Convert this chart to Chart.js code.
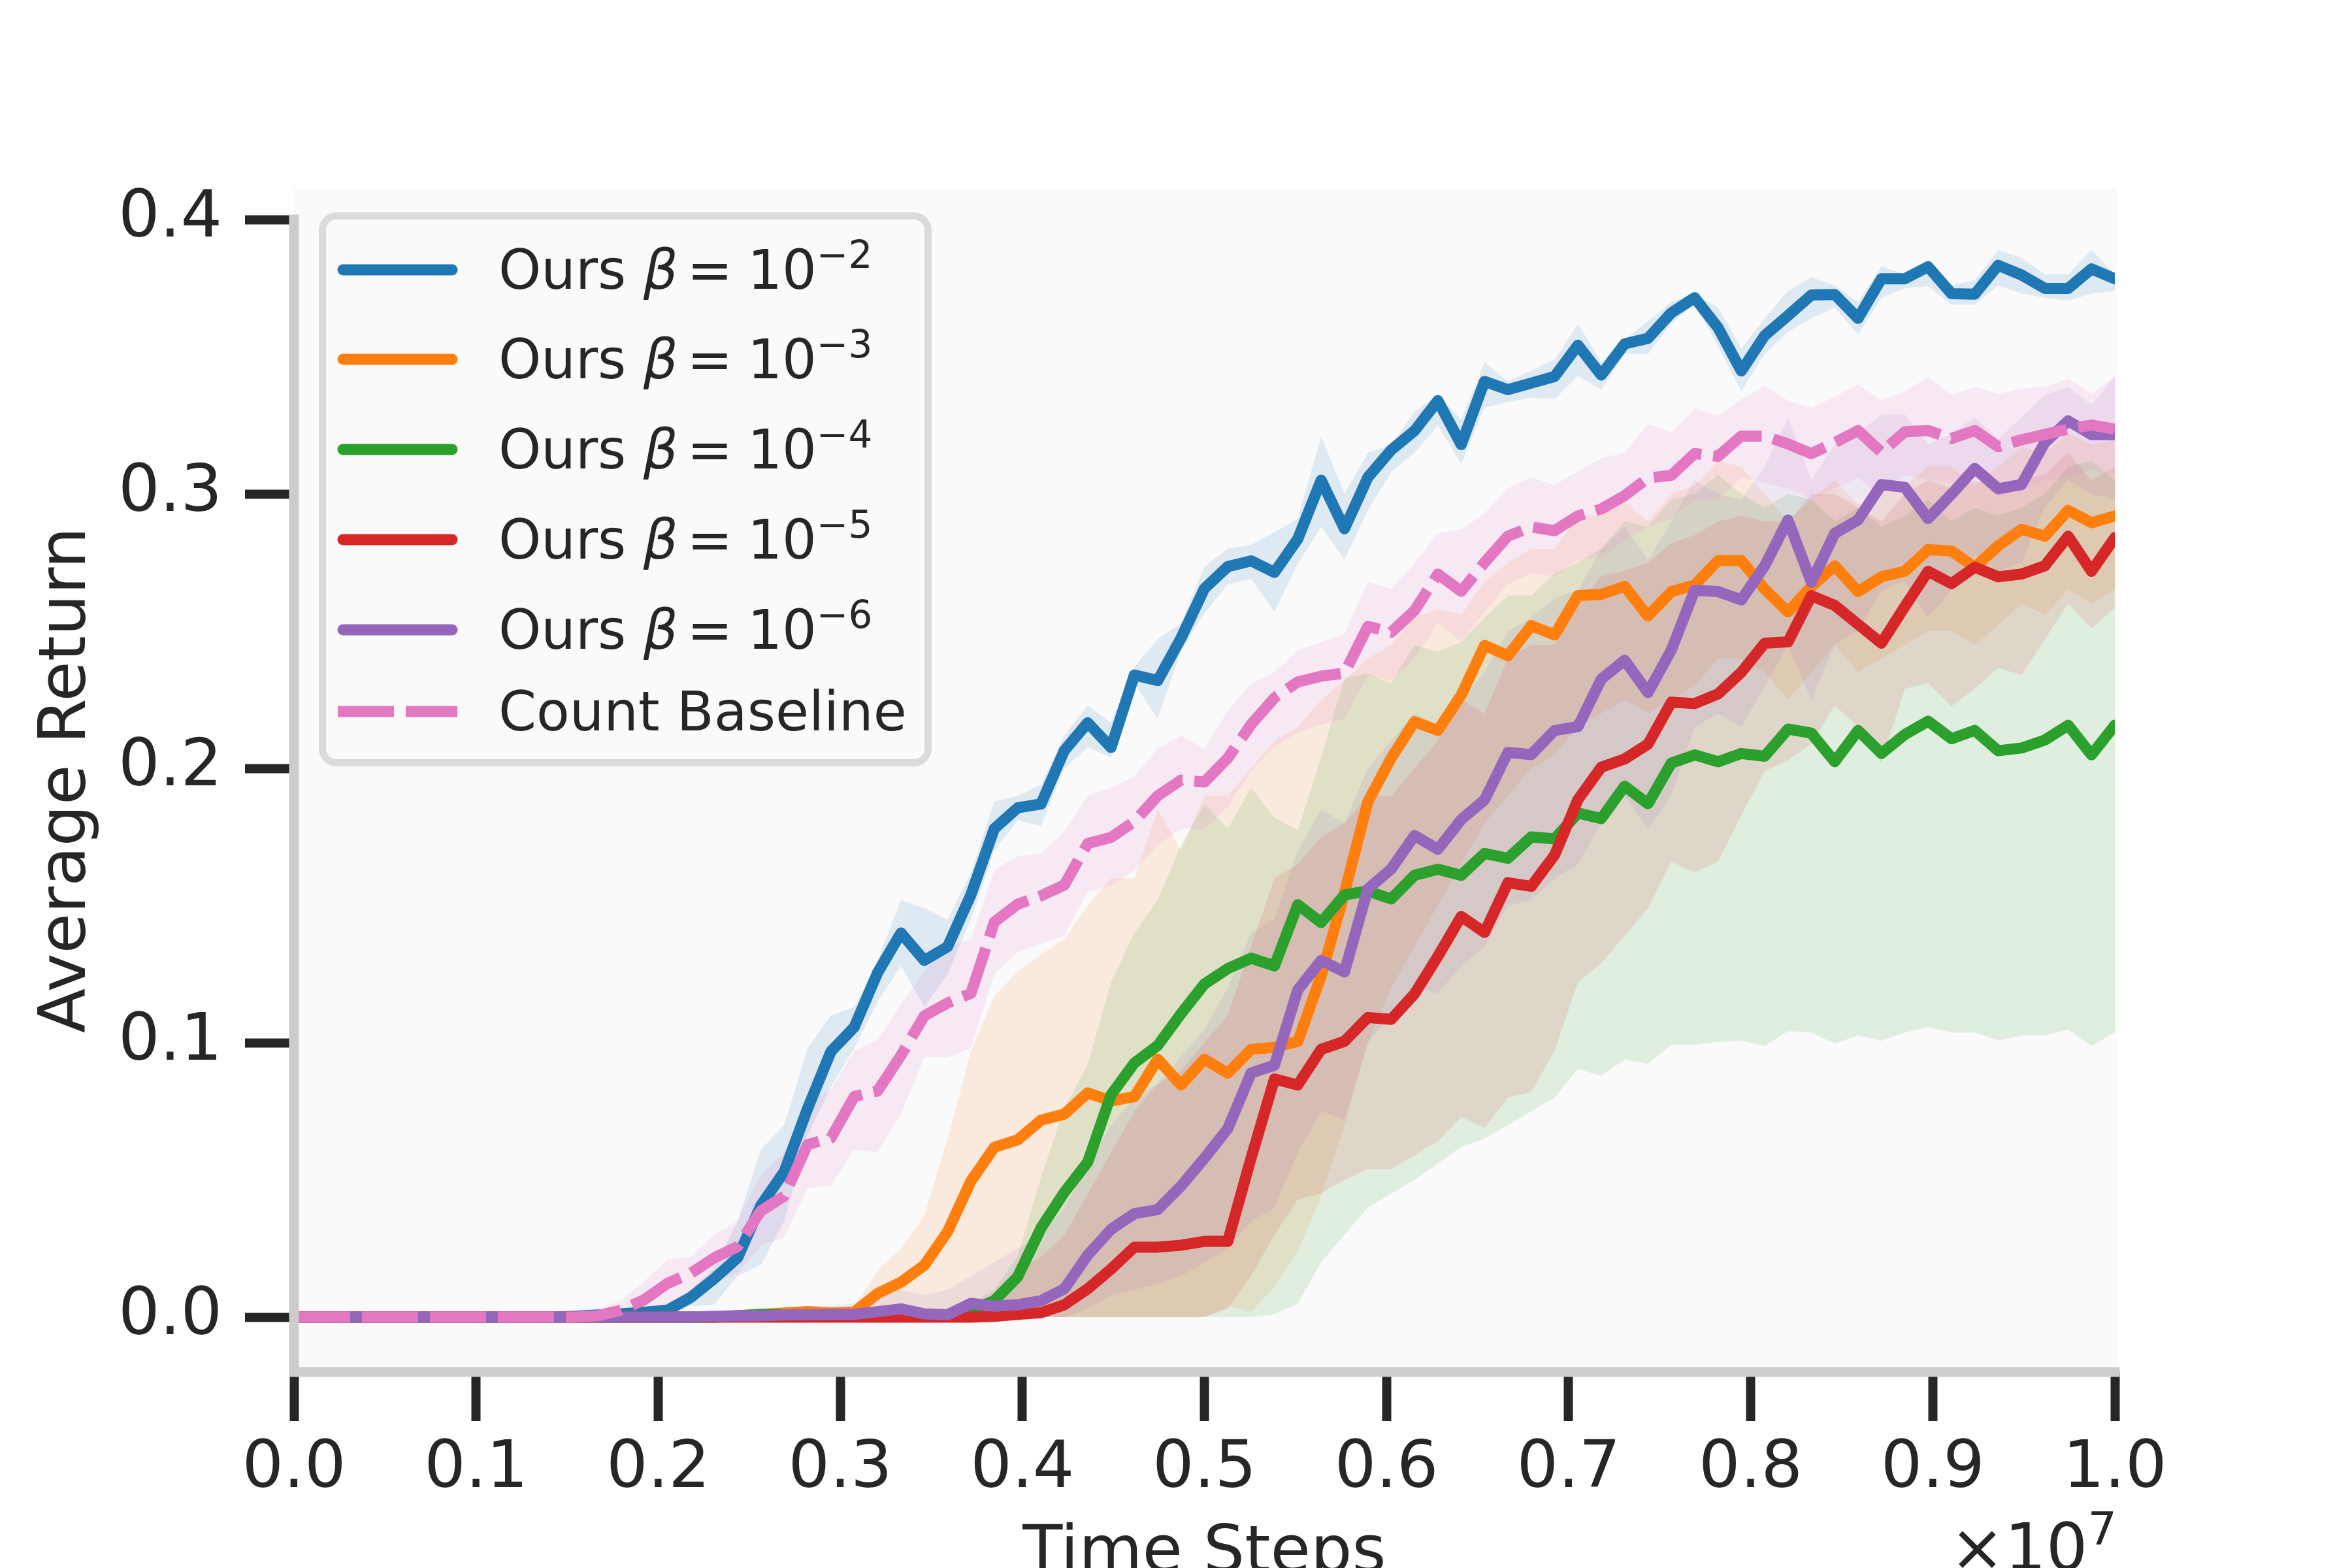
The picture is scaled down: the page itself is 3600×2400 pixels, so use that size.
<!DOCTYPE html>
<html>
<head>
<meta charset="utf-8">
<title>Average Return vs Time Steps</title>
<script src="https://cdn.jsdelivr.net/npm/chart.js@4.4.1/dist/chart.umd.min.js"></script>
<style>
  html, body { margin: 0; padding: 0; background: #ffffff; }
  canvas { display: block; }
</style>
</head>
<body>
<canvas id="chart" width="3600" height="2400"></canvas>
<script>
// evaluation points: one every 1e7/78 environment steps
const steps = Array.from({ length: 79 }, (_, i) => i * 1e7 / 78);
const xTicks = [0, 1e6, 2e6, 3e6, 4e6, 5e6, 6e6, 7e6, 8e6, 9e6, 1e7];
const yTicks = [0, 0.1, 0.2, 0.3, 0.4];

// Ours beta = 1e-2
const ours2 = [0,0,0,0,0,0,0,0,0,0,0,
  0,0.0003,0.0008,0.0012,0.0018,0.0025,0.0072,0.014,0.0216,
  0.0407,0.053,0.076,0.0968,0.1057,0.1255,0.140,0.130,0.135,0.154,
  0.178,0.1856,0.187,0.2065,0.2166,0.2076,0.234,0.232,0.2475,0.2655,
  0.2735,0.2756,0.2714,0.2836,0.305,0.2873,0.306,0.316,0.323,0.334,
  0.318,0.341,0.338,0.3404,0.3428,0.3542,0.3433,0.3547,0.3567,0.366,
  0.3715,0.3606,0.3448,0.3577,0.365,0.3725,0.3727,0.364,0.3784,0.3784,
  0.3828,0.373,0.3728,0.3833,0.3798,0.3749,0.3749,0.382,0.3784];
const ours2Lo = [0,0,0,0,0,0,0,0,0,0,0,
  0,0,0.0003,0.0006,0.001,0.0012,0.004,0.0045,0.015,
  0.019,0.035,0.066,0.084,0.098,0.115,0.128,0.113,0.125,0.145,
  0.170,0.181,0.179,0.200,0.2076,0.204,0.231,0.218,0.243,0.2565,
  0.267,0.269,0.257,0.2746,0.288,0.276,0.294,0.308,0.315,0.325,
  0.311,0.3314,0.3336,0.335,0.3345,0.343,0.338,0.351,0.351,0.362,
  0.369,0.354,0.3374,0.351,0.359,0.364,0.368,0.358,0.3715,0.375,
  0.3757,0.369,0.369,0.376,0.373,0.3715,0.3705,0.373,0.374];
const ours2Hi = [0,0,0,0,0,0,0,0,0,0,0,
  0.0005,0.001,0.0015,0.002,0.003,0.005,0.010,0.018,0.035,
  0.061,0.070,0.098,0.110,0.113,0.130,0.152,0.149,0.145,0.162,
  0.188,0.190,0.194,0.212,0.223,0.2166,0.237,0.247,0.253,0.2735,
  0.280,0.2815,0.286,0.291,0.321,0.300,0.315,0.318,0.330,0.336,
  0.327,0.348,0.341,0.345,0.349,0.362,0.348,0.356,0.363,0.370,
  0.373,0.368,0.353,0.364,0.374,0.379,0.376,0.370,0.383,0.380,
  0.384,0.376,0.378,0.389,0.386,0.380,0.380,0.389,0.380];

// Ours beta = 1e-3
const ours3 = [0,0,0,0,0,0,0,0,0,0,
  0,0,0,0,0,0,0,0,0,0.0005,
  0.001,0.0015,0.002,0.0015,0.0018,0.0086,0.0127,0.0189,0.0312,0.0496,
  0.0619,0.0646,0.0718,0.074,0.0817,0.0788,0.0803,0.094,0.0846,0.094,
  0.0889,0.0976,0.0983,0.1005,0.1243,0.1546,0.1878,0.2037,0.217,0.2138,
  0.2267,0.2448,0.241,0.252,0.2486,0.263,0.2634,0.2663,0.2555,0.2644,
  0.2668,0.2757,0.2757,0.2653,0.257,0.2663,0.2738,0.2644,0.2698,0.2718,
  0.2797,0.2792,0.2733,0.2811,0.2871,0.2846,0.294,0.2895,0.292];
const ours3Lo = [0,0,0,0,0,0,0,0,0,0,
  0,0,0,0,0,0,0,0,0,0,
  0,0,0,0,0,0,0,0,0,0,
  0,0,0,0,0,0,0,0,0,0,
  0.004,0.002,0.011,0.024,0.044,0.07,0.1,0.12,0.135,0.15,
  0.165,0.18,0.19,0.2,0.205,0.215,0.22,0.225,0.22,0.225,
  0.23,0.24,0.24,0.235,0.225,0.235,0.245,0.235,0.24,0.245,
  0.25,0.25,0.245,0.252,0.26,0.256,0.265,0.26,0.265];
const ours3Hi = [0,0,0,0,0,0,0,0,0,0,
  0,0,0,0,0,0,0,0,0,0.001,
  0.002,0.003,0.004,0.003,0.004,0.017,0.025,0.037,0.065,0.097,
  0.117,0.126,0.132,0.138,0.15,0.16,0.16,0.185,0.17,0.19,
  0.19,0.2,0.21,0.215,0.225,0.232,0.24,0.245,0.255,0.258,
  0.256,0.268,0.275,0.28,0.28,0.292,0.292,0.297,0.29,0.3,
  0.303,0.312,0.31,0.3,0.29,0.298,0.305,0.296,0.3,0.303,
  0.31,0.31,0.303,0.31,0.317,0.315,0.322,0.318,0.32];

// Ours beta = 1e-4
const ours4 = [0,0,0,0,0,0,0,0,0,0,
  0,0,0,0,0,0,0,0,0,0.0005,
  0.001,0.0008,0.0005,0.0005,0.0005,0.0005,0.0003,0.0003,0.0005,0.0025,
  0.006,0.0147,0.0325,0.0455,0.0565,0.081,0.0926,0.099,0.1106,0.1214,
  0.127,0.1308,0.128,0.1503,0.1438,0.1539,0.1553,0.1524,0.161,0.1632,
  0.161,0.169,0.1672,0.175,0.1743,0.1837,0.1817,0.1935,0.1871,0.2019,
  0.2049,0.2024,0.2054,0.2044,0.2143,0.2128,0.2024,0.2138,0.2054,0.2123,
  0.2172,0.2108,0.2138,0.2064,0.2074,0.2103,0.2157,0.2049,0.2157];
const ours4Lo = [0,0,0,0,0,0,0,0,0,0,
  0,0,0,0,0,0,0,0,0,0,
  0,0,0,0,0,0,0,0,0,0,
  0,0,0,0,0,0,0,0,0,0,
  0,0,0.001,0.005,0.02,0.03,0.04,0.045,0.05,0.056,
  0.062,0.065,0.07,0.075,0.08,0.0904,0.088,0.0938,0.0923,0.0993,
  0.0993,0.1003,0.1008,0.0988,0.1042,0.1037,0.0997,0.1027,0.1007,0.1037,
  0.1057,0.1037,0.1037,0.1008,0.1027,0.1027,0.1047,0.0988,0.1037];
const ours4Hi = [0,0,0,0,0,0,0,0,0,0,
  0,0,0,0,0,0,0,0,0,0.001,
  0.002,0.0015,0.001,0.001,0.001,0.001,0.001,0.001,0.0015,0.005,
  0.01,0.022,0.051,0.076,0.092,0.122,0.14,0.152,0.172,0.187,
  0.178,0.193,0.182,0.1775,0.204,0.233,0.2345,0.231,0.245,0.2425,
  0.246,0.255,0.263,0.263,0.271,0.275,0.28,0.29,0.288,0.298,
  0.3,0.307,0.3,0.295,0.3,0.298,0.29,0.295,0.288,0.292,
  0.298,0.29,0.295,0.292,0.295,0.3,0.31,0.312,0.305];

// Ours beta = 1e-5
const ours5 = [0,0,0,0,0,0,0,0,0,0,
  0,0,0,0,0,0,0,0,0,0,
  0,0,0,0,0,0,0,0,0,0,
  0.0003,0.001,0.0016,0.0045,0.0103,0.0175,0.0255,0.0255,0.0262,0.0276,
  0.0276,0.058,0.0868,0.0846,0.0976,0.1005,0.1092,0.1085,0.1178,0.1315,
  0.146,0.1402,0.1583,0.157,0.1684,0.1886,0.2004,0.2034,0.2088,0.2241,
  0.2236,0.2271,0.235,0.2456,0.2461,0.2629,0.2594,0.2525,0.2456,0.2589,
  0.2718,0.2673,0.2733,0.2698,0.2708,0.2738,0.2846,0.2718,0.2841];
const ours5Lo = [0,0,0,0,0,0,0,0,0,0,
  0,0,0,0,0,0,0,0,0,0,
  0,0,0,0,0,0,0,0,0,0,
  0,0,0,0,0,0,0,0,0,0,
  0.003,0.015,0.03,0.043,0.045,0.05,0.054,0.054,0.059,0.064,
  0.073,0.069,0.08,0.082,0.097,0.122,0.129,0.139,0.149,0.166,
  0.162,0.166,0.183,0.199,0.203,0.209,0.223,0.215,0.202,0.229,
  0.231,0.2226,0.229,0.2366,0.234,0.247,0.26,0.251,0.2585];
const ours5Hi = [0,0,0,0,0,0,0,0,0,0,
  0,0,0,0,0,0,0,0,0,0,
  0,0,0,0,0,0,0,0,0,0.002,
  0.009,0.017,0.022,0.03,0.045,0.06,0.075,0.085,0.09,0.1,
  0.11,0.135,0.16,0.165,0.175,0.18,0.19,0.19,0.2,0.21,
  0.225,0.22,0.24,0.245,0.245,0.26,0.27,0.272,0.275,0.282,
  0.285,0.29,0.292,0.29,0.29,0.3,0.3,0.295,0.29,0.3,
  0.305,0.302,0.305,0.303,0.305,0.307,0.315,0.305,0.31];

// Ours beta = 1e-6
const ours6 = [0,0,0,0,0,0,0,0,0,0,
  0,0,0,0,0,0,0,0,0.0003,0.0005,
  0.0005,0.0008,0.0009,0.001,0.001,0.002,0.003,0.0012,0.0009,0.005,
  0.004,0.0045,0.006,0.0103,0.0226,0.032,0.0377,0.0392,0.0478,0.0579,
  0.0687,0.089,0.0918,0.1193,0.13,0.1258,0.156,0.1633,0.1755,0.1705,
  0.1813,0.1885,0.2058,0.205,0.2138,0.2152,0.2325,0.2394,0.2276,0.2431,
  0.2649,0.2644,0.2614,0.2738,0.2905,0.2678,0.2856,0.2905,0.3034,0.3024,
  0.291,0.2999,0.3093,0.3019,0.3034,0.3187,0.3266,0.3216,0.3216];
const ours6Lo = [0,0,0,0,0,0,0,0,0,0,
  0,0,0,0,0,0,0,0,0,0,
  0,0,0,0,0,0,0,0,0,0,
  0,0,0,0,0.003,0.008,0.01,0.012,0.015,0.02,
  0.025,0.035,0.04,0.06,0.075,0.072,0.1,0.11,0.12,0.118,
  0.128,0.135,0.15,0.152,0.16,0.165,0.18,0.19,0.178,0.19,
  0.215,0.22,0.215,0.23,0.245,0.225,0.245,0.25,0.265,0.268,
  0.255,0.265,0.278,0.272,0.275,0.295,0.305,0.3,0.298];
const ours6Hi = [0,0,0,0,0,0,0,0,0,0,
  0,0,0,0,0,0,0,0,0,0,
  0,0.002,0.004,0.004,0.005,0.008,0.01,0.008,0.01,0.015,
  0.02,0.025,0.03,0.04,0.055,0.07,0.08,0.085,0.095,0.105,
  0.12,0.14,0.145,0.17,0.185,0.18,0.2,0.21,0.22,0.215,
  0.225,0.235,0.25,0.255,0.262,0.265,0.28,0.288,0.276,0.29,
  0.305,0.3,0.298,0.31,0.328,0.305,0.318,0.322,0.329,0.329,
  0.318,0.322,0.328,0.32,0.328,0.336,0.339,0.3325,0.343];

// Count baseline
const countBase = [0,0,0,0,0,0,0,0,0,0,
  0,0,0,0.0005,0.0025,0.0063,0.0123,0.016,0.0216,0.0257,
  0.0387,0.0441,0.0629,0.0653,0.0804,0.0824,0.0954,0.1098,0.1145,0.118,
  0.144,0.1505,0.1535,0.1575,0.1726,0.1748,0.1806,0.19,0.1957,0.195,
  0.2037,0.216,0.2257,0.2315,0.2336,0.2347,0.2517,0.2496,0.2575,0.2708,
  0.2645,0.275,0.2846,0.288,0.2866,0.292,0.2945,0.2994,0.3058,0.3068,
  0.3147,0.3137,0.3211,0.3211,0.3182,0.3147,0.3187,0.3231,0.3152,0.3226,
  0.3231,0.3202,0.3231,0.3172,0.3197,0.3217,0.3236,0.3251,0.3236];
const countLo = [0,0,0,0,0,0,0,0,0,0,
  0,0,0,0,0.0005,0.002,0.005,0.009,0.013,0.016,
  0.026,0.029,0.047,0.048,0.061,0.060,0.074,0.0947,0.0947,0.098,
  0.125,0.133,0.136,0.139,0.155,0.157,0.163,0.172,0.178,0.178,
  0.186,0.199,0.208,0.213,0.216,0.218,0.234,0.232,0.240,0.253,
  0.246,0.257,0.267,0.271,0.270,0.276,0.277,0.283,0.288,0.291,
  0.298,0.298,0.306,0.304,0.302,0.298,0.302,0.306,0.299,0.307,
  0.305,0.304,0.306,0.299,0.302,0.305,0.306,0.309,0.307];
const countHi = [0,0,0,0,0,0,0,0,0,0,
  0,0,0.001,0.003,0.006,0.013,0.021,0.022,0.030,0.035,
  0.052,0.060,0.078,0.083,0.097,0.101,0.114,0.126,0.135,0.138,
  0.163,0.168,0.169,0.177,0.190,0.193,0.197,0.207,0.212,0.207,
  0.221,0.231,0.235,0.243,0.246,0.249,0.268,0.2655,0.2746,0.2857,
  0.287,0.293,0.302,0.306,0.3033,0.3083,0.313,0.315,0.3255,0.3225,
  0.331,0.3285,0.3344,0.3394,0.334,0.3314,0.3354,0.3399,0.334,0.3374,
  0.3425,0.336,0.339,0.3365,0.3384,0.339,0.342,0.3365,0.343];

const ink = '#262626';

const series = [
  { label: 'Ours β = 10⁻²', exp: '−2', mean: ours2, lo: ours2Lo, hi: ours2Hi, rgb: [31, 119, 180] },
  { label: 'Ours β = 10⁻³', exp: '−3', mean: ours3, lo: ours3Lo, hi: ours3Hi, rgb: [255, 127, 14] },
  { label: 'Ours β = 10⁻⁴', exp: '−4', mean: ours4, lo: ours4Lo, hi: ours4Hi, rgb: [44, 160, 44] },
  { label: 'Ours β = 10⁻⁵', exp: '−5', mean: ours5, lo: ours5Lo, hi: ours5Hi, rgb: [214, 39, 40] },
  { label: 'Ours β = 10⁻⁶', exp: '−6', mean: ours6, lo: ours6Lo, hi: ours6Hi, rgb: [148, 103, 189] },
  { label: 'Count Baseline', exp: null, mean: countBase, lo: countLo, hi: countHi, rgb: [227, 119, 194], dash: [86, 18] }
];

const toPoints = arr => arr.map((v, i) => ({ x: steps[i], y: v }));

const datasets = [];
// shaded bands first (drawn underneath)
series.forEach((s, i) => {
  datasets.push({
    label: s.label + ' upper', data: toPoints(s.hi),
    borderColor: 'transparent', borderWidth: 0, pointRadius: 0,
    backgroundColor: `rgba(${s.rgb},0.12)`, fill: '+1', order: 20 - i
  });
  datasets.push({
    label: s.label + ' lower', data: toPoints(s.lo),
    borderColor: 'transparent', borderWidth: 0, pointRadius: 0,
    fill: false, order: 20 - i
  });
});
// mean curves, count baseline on top
series.forEach((s, i) => {
  datasets.push({
    label: s.label, data: toPoints(s.mean),
    borderColor: `rgb(${s.rgb})`, borderWidth: 17,
    borderDash: s.dash || [], borderCapStyle: s.dash ? 'butt' : 'round',
    borderJoinStyle: 'round', pointRadius: 0, fill: false, order: 10 - i
  });
});

// plot background and spines
const frame = {
  id: 'frame',
  beforeDraw(chart) {
    const { ctx, chartArea: a } = chart;
    ctx.save();
    ctx.fillStyle = '#ffffff';
    ctx.fillRect(0, 0, chart.width, chart.height);
    ctx.fillStyle = '#fafafa';
    ctx.fillRect(a.left, a.top, a.right - a.left + 4, a.bottom - a.top - 8);
    ctx.restore();
  },
  afterDatasetsDraw(chart) {
    const { ctx, chartArea: a, scales } = chart;
    const top = scales.y.getPixelForValue(yTicks[yTicks.length - 1]) - 7.5;
    ctx.save();
    ctx.fillStyle = '#cccccc';
    ctx.fillRect(a.left - 7.5, top, 15, a.bottom - top);
    ctx.fillRect(a.left - 7.5, a.bottom - 7.5, a.right - a.left + 15, 15);
    ctx.restore();
  }
};

// legend with math labels, and the x offset text
const legendBox = {
  id: 'legendBox',
  afterDraw(chart) {
    const ctx = chart.ctx;
    ctx.save();
    ctx.beginPath();
    ctx.roundRect(493.5, 330.5, 927, 837, 22);
    ctx.fillStyle = 'rgba(250,250,250,0.8)';
    ctx.fill();
    ctx.lineWidth = 11;
    ctx.strokeStyle = '#dbdbdb';
    ctx.stroke();

    const rows = [413, 550, 688, 826, 964, 1089];
    series.forEach((s, i) => {
      const y = rows[i];
      ctx.beginPath();
      ctx.moveTo(s.dash ? 517 : 525, y);
      ctx.lineTo(s.dash ? 700 : 692, y);
      ctx.lineWidth = 17;
      ctx.strokeStyle = `rgb(${s.rgb})`;
      ctx.lineCap = s.dash ? 'butt' : 'round';
      ctx.setLineDash(s.dash || []);
      ctx.stroke();
      ctx.setLineDash([]);

      ctx.fillStyle = ink;
      ctx.textAlign = 'left';
      ctx.textBaseline = 'alphabetic';
      let x = 763;
      const base = y + 29;
      ctx.font = '83px "DejaVu Sans"';
      if (!s.exp) {
        ctx.fillText(s.label, x, base);
        return;
      }
      ctx.fillText('Ours ', x, base);
      x += ctx.measureText('Ours ').width;
      ctx.font = 'italic 83px "DejaVu Sans"';
      ctx.fillText('β', x, base);
      x += ctx.measureText('β').width + 14;
      ctx.font = '83px "DejaVu Sans"';
      ctx.fillText('=', x, base);
      x += ctx.measureText('=').width + 23;
      ctx.fillText('10', x, base);
      x += ctx.measureText('10').width;
      ctx.font = '58px "DejaVu Sans"';
      ctx.fillText(s.exp, x, base - 32);
    });

    // ×10^7 scale factor for the x axis
    ctx.fillStyle = ink;
    ctx.font = '70px "DejaVu Sans"';
    const wSup = ctx.measureText('7').width;
    ctx.font = '100px "DejaVu Sans"';
    const wMain = ctx.measureText('×10').width;
    const right = chart.chartArea.right + 3;
    ctx.fillText('×10', right - wSup - wMain, 2403);
    ctx.font = '70px "DejaVu Sans"';
    ctx.fillText('7', right - wSup, 2364);
    ctx.restore();
  }
};

Chart.defaults.font.family = "'DejaVu Sans', sans-serif";

new Chart(document.getElementById('chart'), {
  type: 'line',
  data: { datasets },
  options: {
    responsive: false,
    devicePixelRatio: 1,
    animation: false,
    events: [],
    layout: { padding: { top: 288, right: 363, bottom: 0, left: 0 } },
    plugins: {
      legend: { display: false },
      tooltip: { enabled: false },
      filler: { propagate: false }
    },
    scales: {
      x: {
        type: 'linear', min: 0, max: 1e7,
        afterFit: s => { s.height = 300; },
        afterBuildTicks: s => { s.ticks = xTicks.map(v => ({ value: v })); },
        border: { display: false },
        grid: { drawOnChartArea: false, drawTicks: true, tickLength: 75, tickWidth: 14, tickColor: ink },
        ticks: {
          color: ink, font: { size: 100 }, padding: 15, maxRotation: 0, autoSkip: false,
          callback: v => (v / 1e7).toFixed(1)
        },
        title: {
          display: true, text: 'Time Steps', color: ink,
          font: { size: 100, lineHeight: 1.2 }, padding: { top: 0, bottom: -40 }
        }
      },
      y: {
        type: 'linear', min: -0.02, max: 0.41143,
        afterFit: s => { s.width = 450; },
        afterBuildTicks: s => { s.ticks = yTicks.map(v => ({ value: v })); },
        border: { display: false },
        grid: { drawOnChartArea: false, drawTicks: true, tickLength: 75, tickWidth: 14, tickColor: ink },
        ticks: {
          color: ink, font: { size: 100 }, padding: 35,
          callback: v => Number(v).toFixed(1)
        },
        title: {
          display: true, text: 'Average Return', color: ink,
          font: { size: 100, lineHeight: 1.2 }, padding: { top: 44, bottom: 0 }
        }
      }
    }
  },
  plugins: [frame, legendBox]
});
</script>
</body>
</html>
